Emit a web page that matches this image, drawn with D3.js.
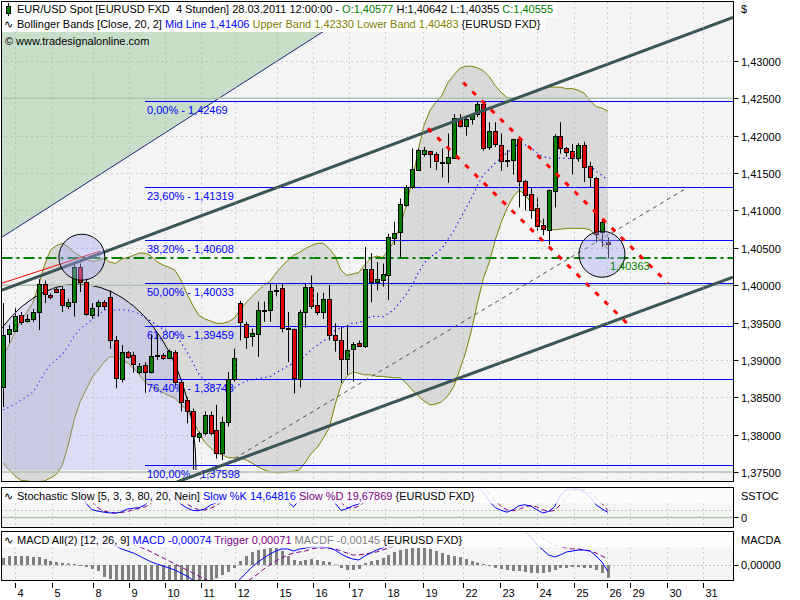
<!DOCTYPE html>
<html><head><meta charset="utf-8">
<script src="https://d3js.org/d3.v7.min.js"></script>
<style>
body{margin:0;background:#fff;}
svg{display:block;}
text{font-family:"Liberation Sans",Arial,Helvetica,sans-serif;font-size:11px;white-space:pre;}
</style></head>
<body><svg id="chart" width="800" height="600"></svg>
<script>
// ---------------- DATA ----------------
const opens = [1.3864,1.3934,1.3939,1.3960,1.3952,1.3954,1.3964,1.4001,1.3987,1.3995,1.3995,1.3972,1.3977,1.4024,1.4004,1.3961,1.3971,1.3977,1.3984,1.3926,1.3874,1.3910,1.3907,1.3884,1.3893,1.3883,1.3905,1.3907,1.3903,1.3911,1.3871,1.3846,1.3831,1.3797,1.3802,1.3826,1.3806,1.3775,1.3817,1.3874,1.3976,1.3948,1.3932,1.3935,1.3966,1.3966,1.3991,1.3996,1.3943,1.3941,1.3875,1.3964,1.3998,1.3973,1.3964,1.3982,1.3933,1.3926,1.3901,1.3914,1.3923,1.3918,1.4021,1.4004,1.4007,1.4014,1.4063,1.4071,1.4107,1.4131,1.4154,1.4175,1.4179,1.4175,1.4165,1.4163,1.4171,1.4224,1.4213,1.4222,1.4229,1.4243,1.4184,1.4206,1.4188,1.4167,1.4167,1.4195,1.4140,1.4122,1.4103,1.4080,1.4074,1.4126,1.4199,1.4183,1.4179,1.4169,1.4187,1.4159,1.4144,1.4071,1.40577];
const highs = [1.3976,1.3947,1.3970,1.3964,1.3961,1.3968,1.4008,1.4006,1.3989,1.3997,1.3998,1.3982,1.4029,1.4029,1.4009,1.3976,1.3980,1.3980,1.3993,1.3932,1.3920,1.3912,1.3911,1.3896,1.3897,1.3934,1.3935,1.3909,1.3914,1.3913,1.3873,1.3850,1.3835,1.3804,1.3831,1.3831,1.3840,1.3824,1.3884,1.3915,1.3979,1.3951,1.3942,1.3978,1.3978,1.4002,1.4001,1.4002,1.3964,1.3942,1.3967,1.4002,1.4013,1.3990,1.3990,1.4000,1.3949,1.3944,1.3947,1.3924,1.3926,1.4051,1.4043,1.4031,1.4029,1.4069,1.4085,1.4116,1.4134,1.4183,1.4183,1.4185,1.4180,1.4178,1.4183,1.4203,1.4229,1.4229,1.4223,1.4230,1.4247,1.4245,1.4218,1.4218,1.4203,1.4181,1.4196,1.4199,1.4141,1.4131,1.4118,1.4089,1.4128,1.4202,1.4218,1.4185,1.4189,1.4190,1.4192,1.4165,1.4145,1.4089,1.40642];
const lows = [1.3837,1.3923,1.3938,1.3947,1.3950,1.3951,1.3940,1.3976,1.3981,1.3990,1.3964,1.3968,1.3958,1.3991,1.3959,1.3955,1.3958,1.3967,1.3915,1.3862,1.3870,1.3902,1.3883,1.3881,1.3856,1.3882,1.3900,1.3900,1.3901,1.3866,1.3831,1.3815,1.3753,1.3790,1.3799,1.3799,1.3768,1.3766,1.3811,1.3871,1.3926,1.3915,1.3918,1.3904,1.3951,1.3951,1.3985,1.3937,1.3897,1.3855,1.3863,1.3943,1.3968,1.3960,1.3955,1.3926,1.3911,1.3869,1.3880,1.3871,1.3918,1.3916,1.3977,1.3993,1.3998,1.3980,1.4054,1.4037,1.4105,1.4129,1.4153,1.4172,1.4157,1.4154,1.4144,1.4137,1.4169,1.4211,1.4200,1.4215,1.4225,1.4180,1.4181,1.4185,1.4153,1.4158,1.4148,1.4104,1.4100,1.4089,1.4073,1.4067,1.4054,1.4104,1.4176,1.4172,1.4148,1.4165,1.4138,1.4131,1.4057,1.4051,1.40355];
const closes = [1.3933,1.3941,1.3959,1.3951,1.3955,1.3964,1.4001,1.3987,1.3984,1.3991,1.3973,1.3977,1.4024,1.4004,1.3961,1.3970,1.3977,1.3971,1.3926,1.3875,1.3910,1.3903,1.3895,1.3892,1.3883,1.3905,1.3907,1.3903,1.3912,1.3871,1.3844,1.3831,1.3797,1.3802,1.3826,1.3802,1.3775,1.3817,1.3875,1.3902,1.3951,1.3931,1.3936,1.3967,1.3967,1.3992,1.3993,1.3943,1.3941,1.3875,1.3964,1.3998,1.3972,1.3964,1.3982,1.3934,1.3926,1.3901,1.3913,1.3921,1.3919,1.4021,1.4004,1.4008,1.4015,1.4065,1.4070,1.4108,1.4131,1.4155,1.4181,1.4181,1.4175,1.4165,1.4163,1.4171,1.4224,1.4213,1.4222,1.4229,1.4243,1.4184,1.4206,1.4188,1.4167,1.4166,1.4195,1.4139,1.4121,1.4100,1.4079,1.4074,1.4127,1.4199,1.4183,1.4178,1.4169,1.4187,1.4158,1.4144,1.4069,1.4085,1.40555];

const bbUpper = [1.3904,1.3920,1.3937,1.3953,1.3964,1.3976,1.4000,1.4027,1.4047,1.4053,1.4056,1.4051,1.4044,1.4039,1.4035,1.4032,1.4033,1.4036,1.4031,1.4029,1.4035,1.4037,1.4040,1.4043,1.4043,1.4039,1.4031,1.4027,1.4024,1.4020,1.4007,1.3989,1.3973,1.3960,1.3955,1.3952,1.3949,1.3949,1.3951,1.3956,1.3967,1.3977,1.3985,1.3993,1.4000,1.4005,1.4016,1.4025,1.4033,1.4040,1.4044,1.4049,1.4053,1.4056,1.4056,1.4049,1.4039,1.4020,1.4013,1.4015,1.4017,1.4027,1.4036,1.4039,1.4037,1.4047,1.4060,1.4080,1.4107,1.4140,1.4180,1.4214,1.4234,1.4245,1.4254,1.4271,1.4281,1.4290,1.4293,1.4293,1.4291,1.4287,1.4279,1.4267,1.4258,1.4251,1.4250,1.4251,1.4254,1.4258,1.4261,1.4263,1.4265,1.4265,1.4265,1.4263,1.4263,1.4261,1.4257,1.4247,1.4239,1.4237,1.4233];
const bbLower = [1.3762,1.3753,1.3745,1.3739,1.3738,1.3737,1.3737,1.3738,1.3742,1.3747,1.3759,1.3786,1.3820,1.3844,1.3860,1.3876,1.3886,1.3897,1.3904,1.3904,1.3900,1.3896,1.3889,1.3880,1.3870,1.3864,1.3860,1.3856,1.3852,1.3849,1.3840,1.3833,1.3820,1.3803,1.3790,1.3782,1.3775,1.3773,1.3769,1.3769,1.3769,1.3766,1.3762,1.3757,1.3753,1.3750,1.3749,1.3749,1.3750,1.3751,1.3753,1.3763,1.3775,1.3783,1.3795,1.3809,1.3840,1.3866,1.3878,1.3884,1.3882,1.3880,1.3880,1.3878,1.3878,1.3877,1.3876,1.3876,1.3869,1.3860,1.3852,1.3845,1.3840,1.3841,1.3844,1.3852,1.3864,1.3886,1.3910,1.3940,1.3976,1.4009,1.4031,1.4060,1.4084,1.4103,1.4118,1.4127,1.4122,1.4110,1.4094,1.4082,1.4075,1.4074,1.4075,1.4076,1.4076,1.4076,1.4076,1.4074,1.4066,1.4057,1.4048];

const stochK = [90,90,92,91,89,90,95,94,92,91,89,90,92,80,40,22,18,15,13,12,16,24,26,28,36,55,75,88,70,52,38,27,20,19,24,35,42,62,88,95,96,92,89,92,94,95,96,72,45,30,50,75,90,92,90,70,40,20,25,33,38,60,88,92,94,96,97,97,98,98,98,97,96,94,93,94,96,95,94,90,88,72,45,28,20,15,22,33,36,32,22,13,17,30,62,78,81,80,72,58,36,24,14.65];
const stochD = [90,90,91,91,90,90,91,93,94,92,90,90,90,87,71,47,27,18,15,13,14,17,22,26,30,40,55,73,78,70,53,39,28,22,21,26,34,46,64,82,93,94,92,91,92,94,95,88,71,49,42,52,72,86,91,84,67,43,28,26,32,44,62,80,91,94,96,97,97,98,98,98,97,96,94,94,94,95,95,93,92,85,68,48,31,21,19,23,30,34,30,22,17,20,36,57,74,80,78,70,55,39,19.68];

const macdLine = [0.00420,0.00443,0.00466,0.00489,0.00511,0.00534,0.00580,0.00602,0.00602,0.00580,0.00500,0.00450,0.00410,0.00364,0.00341,0.00318,0.00295,0.00273,0.00250,0.00216,0.00182,0.00159,0.00136,0.00102,0.00068,0.00034,0.00011,-0.00011,-0.00034,-0.00057,-0.00091,-0.00125,-0.00170,-0.00227,-0.00261,-0.00284,-0.00307,-0.00307,-0.00284,-0.00227,-0.00159,-0.00091,-0.00023,0.00034,0.00080,0.00125,0.00159,0.00182,0.00182,0.00159,0.00182,0.00193,0.00205,0.00205,0.00205,0.00193,0.00170,0.00125,0.00091,0.00068,0.00057,0.00102,0.00136,0.00170,0.00193,0.00250,0.00284,0.00341,0.00398,0.00489,0.00568,0.00648,0.00716,0.00761,0.00795,0.00830,0.00875,0.00909,0.00932,0.00955,0.00966,0.00920,0.00852,0.00773,0.00693,0.00625,0.00557,0.00466,0.00386,0.00318,0.00239,0.00170,0.00114,0.00091,0.00114,0.00148,0.00159,0.00170,0.00170,0.00159,0.00102,0.00034,-0.00074];
const macdTrigger = [0.00398,0.00409,0.00420,0.00432,0.00443,0.00455,0.00477,0.00500,0.00523,0.00534,0.00534,0.00523,0.00511,0.00489,0.00455,0.00420,0.00386,0.00352,0.00318,0.00295,0.00273,0.00250,0.00227,0.00205,0.00182,0.00148,0.00114,0.00080,0.00045,0.00011,-0.00023,-0.00057,-0.00091,-0.00125,-0.00159,-0.00193,-0.00227,-0.00250,-0.00261,-0.00261,-0.00239,-0.00193,-0.00148,-0.00102,-0.00045,0.00000,0.00045,0.00080,0.00114,0.00136,0.00148,0.00159,0.00182,0.00193,0.00193,0.00193,0.00182,0.00159,0.00136,0.00114,0.00114,0.00125,0.00136,0.00148,0.00170,0.00193,0.00216,0.00239,0.00273,0.00318,0.00375,0.00443,0.00511,0.00580,0.00648,0.00705,0.00750,0.00795,0.00830,0.00864,0.00886,0.00898,0.00886,0.00852,0.00807,0.00750,0.00682,0.00602,0.00511,0.00432,0.00364,0.00307,0.00261,0.00227,0.00205,0.00193,0.00182,0.00182,0.00170,0.00159,0.00136,0.00102,0.00071];
const macdHist = [0.00080,0.00102,0.00102,0.00102,0.00102,0.00091,0.00091,0.00068,0.00045,0.00034,0.00023,0.00017,0.00011,-0.00011,-0.00023,-0.00045,-0.00068,-0.00136,-0.00160,-0.00180,-0.00190,-0.00200,-0.00205,-0.00210,-0.00210,-0.00210,-0.00205,-0.00200,-0.00200,-0.00200,-0.00205,-0.00210,-0.00215,-0.00215,-0.00210,-0.00200,-0.00150,-0.00114,-0.00080,-0.00034,0.00045,0.00102,0.00148,0.00170,0.00182,0.00193,0.00193,0.00159,0.00102,0.00057,0.00045,0.00057,0.00068,0.00057,0.00045,0.00034,0.00006,-0.00034,-0.00057,-0.00057,-0.00045,0.00023,0.00045,0.00057,0.00080,0.00114,0.00148,0.00170,0.00182,0.00193,0.00193,0.00193,0.00182,0.00159,0.00136,0.00114,0.00102,0.00091,0.00068,0.00045,0.00028,0.00011,-0.00011,-0.00034,-0.00045,-0.00057,-0.00068,-0.00068,-0.00080,-0.00091,-0.00091,-0.00091,-0.00080,-0.00057,-0.00034,-0.00034,-0.00023,-0.00023,-0.00034,-0.00034,-0.00057,-0.00091,-0.00145];

const dayLabels = ["4","5","8","9","10","11","12","15","16","17","18","19","22","23","24","25","26","29","30","31"];
const dayTicks = [2.1,8.2,15.1,21.3,27.4,33.4,39.2,46.2,52.3,58.4,64.4,70.8,77.5,83.8,90,96.2,101.9,105.8,112,118];
const priceTicks = [1.375,1.38,1.385,1.39,1.395,1.40,1.405,1.41,1.415,1.42,1.425,1.43];
const roundLevels = [1.375,1.40,1.425];
const fibLevels = [1.42469,1.41319,1.40608,1.40033,1.39459,1.38748,1.37598];
const fibNames = ["0,00%","23,60%","38,20%","50,00%","61,80%","76,40%","100,00%"];
const markLevel = 1.40363;
// drawing objects (bar index, price)
const triangleLine = [[-0.17,1.40642],[46.4,1.43008]];
const channelUpper = [[-0.17,1.39933],[123.1,1.43583]];
const channelLower = [[29.34,1.37366],[123.1,1.40107]];
const redLine = [[-0.17,1.40027],[16.36,1.40455]];
const redDash1 = [[71.67,1.42099],[106.07,1.39425]];
const redDash2 = [[77.57,1.42714],[112.14,1.40027]];
const grayDash = [[33.22,1.37406],[115.51,1.41310]];
const circles = [[13.3,1.40374],[101.0,1.40414]];
const arcCenter = [12.65,1.37527], arcHalfWidthBars = 19.9, arcHeightPrice = 0.02487;

// ---------------- CHART ----------------
const svg = d3.select('#chart');
const PL = 1.5, PR = 733.5;
const M = {t:1.5, b:481.5}, S = {t:487.5, b:527.5}, D = {t:531.5, b:580.5};
const x = d3.scaleLinear().domain([0,102]).range([3,607.9]);
const y = d3.scaleLinear().domain([1.375,1.43]).range([472,61]);
const ys = d3.scaleLinear().domain([0,100]).range([517.5,482]);
const ym = d3.scaleLinear().domain([0,0.001]).range([565,556.2]);
const N = opens.length, idx = d3.range(N);
const px = i => Math.round(x(i)) + 0.5;
const fmt = v => d3.format('.5f')(v).replace('.', ',');
const P = a => [x(a[0]), y(a[1])];

svg.append('rect').attr('width',800).attr('height',600).attr('fill','#fff');
[M,S,D].forEach(p => svg.append('rect').attr('x',PL).attr('y',p.t).attr('width',PR-PL).attr('height',p.b-p.t).attr('fill','#f4f4f4'));

const defs = svg.append('defs');
[['cm',M],['cs',S],['cd',D]].forEach(([id,p]) => defs.append('clipPath').attr('id',id).append('rect')
  .attr('x',PL+0.5).attr('y',p.t+0.5).attr('width',PR-PL-1).attr('height',p.b-p.t-1));
defs.append('clipPath').attr('id','carc').append('rect').attr('x',0).attr('y',0).attr('width',800).attr('height',y(arcCenter[1]));

const g = svg.append('g').attr('clip-path','url(#cm)');

// green triangle
{
  const [ax,ay] = P(triangleLine[0]), [bx,by] = P(triangleLine[1]);
  const s = (by-ay)/(bx-ax);
  const yl = ay + s*(PL-ax), xt = ax + (M.t-ay)/s;
  g.append('path').attr('d',`M${PL},${M.t}L${xt},${M.t}L${PL},${yl}Z`).attr('fill','#c8dec8');
  g.append('line').attr('x1',PL).attr('y1',yl).attr('x2',xt).attr('y2',M.t).attr('stroke','#1c2878').attr('stroke-width',1);
}

// grid
const vgrid = (p) => dayTicks.forEach(t => svg.append('line').attr('x1',Math.round(x(t))+0.5).attr('x2',Math.round(x(t))+0.5)
  .attr('y1',p.t+1).attr('y2',p.b-1).attr('stroke','#a8a8a8').attr('stroke-dasharray','1,4'));
[M,S,D].forEach(vgrid);
priceTicks.forEach(v => g.append('line').attr('x1',PL).attr('x2',PR).attr('y1',Math.round(y(v))+0.5).attr('y2',Math.round(y(v))+0.5)
  .attr('stroke','#a8a8a8').attr('stroke-dasharray','1,4'));

// bollinger
g.append('path').datum(idx).attr('fill','#d9d9d9')
  .attr('d', d3.area().x(i=>x(i)).y0(i=>y(bbLower[i])).y1(i=>y(bbUpper[i])));
[bbUpper,bbLower].forEach(arr => g.append('path').datum(idx).attr('fill','none').attr('stroke','#808000').attr('stroke-width',1)
  .attr('d', d3.line().x(i=>x(i)).y(i=>y(arr[i]))));
g.append('path').datum(idx).attr('fill','none').attr('stroke','#0000ff').attr('stroke-width',1.2).attr('stroke-dasharray','1.2,3.5')
  .attr('d', d3.line().x(i=>x(i)).y(i=>y((bbUpper[i]+bbLower[i])/2)));

// big half ellipse
{
  const cx = x(arcCenter[0]), cy = y(arcCenter[1]);
  const rx = x(arcCenter[0]+arcHalfWidthBars) - cx, ry = cy - y(arcCenter[1]+arcHeightPrice);
  g.append('ellipse').attr('clip-path','url(#carc)').attr('cx',cx).attr('cy',cy).attr('rx',rx).attr('ry',ry)
    .attr('fill','#a4a4f7').attr('fill-opacity',0.3).attr('stroke','#000').attr('stroke-width',1);
}

// round level lines
roundLevels.forEach(v => g.append('line').attr('x1',PL).attr('x2',PR).attr('y1',y(v)).attr('y2',y(v)).attr('stroke','#b0c4b0').attr('stroke-width',1.5));

// fib
fibLevels.forEach((v,k) => {
  const yy = Math.round(y(v))+0.5;
  g.append('line').attr('x1',145).attr('x2',PR).attr('y1',yy).attr('y2',yy).attr('stroke','#0000ff').attr('stroke-width',1);
  g.append('text').attr('x',147).attr('y',yy+12.5).attr('fill','#0000ff').text(fibNames[k]+' - '+fmt(v));
});

// green dash-dot line
g.append('line').attr('x1',PL).attr('x2',PR).attr('y1',y(markLevel)).attr('y2',y(markLevel))
  .attr('stroke','#008000').attr('stroke-width',2).attr('stroke-dasharray','11,4,3,4');

// gray dashed
{ const [a,b] = [P(grayDash[0]),P(grayDash[1])];
  g.append('line').attr('x1',a[0]).attr('y1',a[1]).attr('x2',b[0]).attr('y2',b[1]).attr('stroke','#505050').attr('stroke-width',1).attr('stroke-dasharray','4,4'); }

// candles
const cg = g.append('g');
idx.forEach(i => {
  const xx = px(i);
  cg.append('line').attr('x1',xx).attr('x2',xx).attr('y1',y(highs[i])).attr('y2',y(lows[i])).attr('stroke','#000').attr('stroke-width',1);
  const yo = y(opens[i]), yc = y(closes[i]);
  const top = Math.round(Math.min(yo,yc))+0.5, h = Math.max(Math.round(Math.abs(yo-yc)),1);
  const col = closes[i] > opens[i] ? '#008000' : '#e00000';
  cg.append('rect').attr('x',xx-2).attr('y',top).attr('width',4).attr('height',h)
    .attr('fill', h<=1 ? '#000' : col).attr('stroke','#000').attr('stroke-width',1);
});

// channel lines
[channelUpper, channelLower].forEach(l => { const [a,b] = [P(l[0]),P(l[1])];
  g.append('line').attr('x1',a[0]).attr('y1',a[1]).attr('x2',b[0]).attr('y2',b[1]).attr('stroke','#3b5656').attr('stroke-width',3); });
{ const [a,b] = [P(redLine[0]),P(redLine[1])];
  g.append('line').attr('x1',a[0]).attr('y1',a[1]).attr('x2',b[0]).attr('y2',b[1]).attr('stroke','#ff0000').attr('stroke-width',1); }

// circles
circles.forEach(c => g.append('circle').attr('cx',x(c[0])).attr('cy',y(c[1])).attr('r',23)
  .attr('fill','#a4a4f7').attr('fill-opacity',0.4).attr('stroke','#000').attr('stroke-width',1));

// red dashed
[redDash1, redDash2].forEach(l => { const [a,b] = [P(l[0]),P(l[1])];
  g.append('line').attr('x1',a[0]).attr('y1',a[1]).attr('x2',b[0]).attr('y2',b[1]).attr('stroke','#ff0000').attr('stroke-width',3).attr('stroke-dasharray','5,8'); });

g.append('text').attr('x',x(N-1)+2).attr('y',y(markLevel)+12).attr('fill','#008000').attr('font-size','12px').text(fmt(markLevel));

// header
const hdr = svg.append('g');
const r1 = hdr.append('rect').attr('fill','#fff'), r2 = hdr.append('rect').attr('fill','#fff');
hdr.append('line').attr('x1',8.5).attr('x2',8.5).attr('y1',3).attr('y2',16).attr('stroke','#000');
hdr.append('rect').attr('x',6.5).attr('y',6.5).attr('width',4).attr('height',7).attr('fill','#008000').attr('stroke','#000');
const t1 = hdr.append('text').attr('x',17).attr('y',13);
t1.append('tspan').text('EUR/USD Spot [EURUSD FXD  4 Stunden] 28.03.2011 12:00:00 - ');
t1.append('tspan').attr('fill','#008000').text('O:' + fmt(opens[N-1]));
t1.append('tspan').text(' H:' + fmt(highs[N-1]) + ' L:' + fmt(lows[N-1]) + ' ');
t1.append('tspan').attr('fill','#008000').text('C:' + fmt(closes[N-1]));
hdr.append('text').attr('x',4).attr('y',28).attr('font-family','DejaVu Sans').attr('font-size','12px').text('∿');
const t2 = hdr.append('text').attr('x',17).attr('y',28);
t2.append('tspan').text('Bollinger Bands [Close, 20, 2] ');
t2.append('tspan').attr('fill','#0000ff').text('Mid Line 1,41406');
t2.append('tspan').attr('fill','#808000').text(' Upper Band 1,42330 Lower Band 1,40483');
t2.append('tspan').text(' {EURUSD FXD}');
hdr.append('text').attr('x',5).attr('y',45).text('©');
hdr.append('text').attr('x',16).attr('y',45).text('www.tradesignalonline.com');
const b1 = t1.node().getBBox(), b2 = t2.node().getBBox();
r1.attr('x',2).attr('y',2).attr('width',b1.x+b1.width+4-2).attr('height',15);
r2.attr('x',2).attr('y',17).attr('width',b2.x+b2.width+4-2).attr('height',15);

// right price axis
priceTicks.forEach(v => {
  const yy = Math.round(y(v))+0.5;
  svg.append('line').attr('x1',PR).attr('x2',PR+5).attr('y1',yy).attr('y2',yy).attr('stroke','#000');
  svg.append('text').attr('x',741).attr('y',yy+4).text(fmt(v));
});
svg.append('text').attr('x',741).attr('y',13).text('$');

// ---- Stochastic ----
const gs = svg.append('g').attr('clip-path','url(#cs)');
gs.append('line').attr('x1',PL).attr('x2',PR).attr('y1',ys(0)).attr('y2',ys(0)).attr('stroke','#b0c4b0').attr('stroke-width',1.5);
[20,80].forEach(v => gs.append('line').attr('x1',PL).attr('x2',PR).attr('y1',Math.round(ys(v))+0.5).attr('y2',Math.round(ys(v))+0.5)
  .attr('stroke','#888').attr('stroke-dasharray','1,3'));
gs.append('path').datum(idx).attr('fill','none').attr('stroke','#800080').attr('stroke-dasharray','5,3')
  .attr('d', d3.line().x(i=>x(i)).y(i=>ys(stochD[i])));
gs.append('path').datum(idx).attr('fill','none').attr('stroke','#0000ff')
  .attr('d', d3.line().x(i=>x(i)).y(i=>ys(stochK[i])));
gs.append('rect').attr('x',PL).attr('y',S.t).attr('width',PR-PL).attr('height',16).attr('fill','#fff').attr('fill-opacity',0.82);
svg.append('text').attr('x',4).attr('y',500).attr('font-family','DejaVu Sans').attr('font-size','12px').text('∿');
const ts = svg.append('text').attr('x',17).attr('y',500);
ts.append('tspan').text('Stochastic Slow [5, 3, 3, 80, 20, Nein] ');
ts.append('tspan').attr('fill','#0000ff').text('Slow %K 14,64816');
ts.append('tspan').attr('fill','#800080').text(' Slow %D 19,67869');
ts.append('tspan').text(' {EURUSD FXD}');
svg.append('text').attr('x',741).attr('y',500).text('SSTOC');
svg.append('line').attr('x1',PR).attr('x2',PR+5).attr('y1',ys(0)).attr('y2',ys(0)).attr('stroke','#000');
svg.append('text').attr('x',741).attr('y',ys(0)+4).text('0');

// ---- MACD ----
const gd = svg.append('g').attr('clip-path','url(#cd)');
gd.append('line').attr('x1',PL).attr('x2',PR).attr('y1',Math.round(ym(0))+0.5).attr('y2',Math.round(ym(0))+0.5)
  .attr('stroke','#888').attr('stroke-dasharray','1,3');
idx.forEach(i => {
  const v = macdHist[i], y0 = ym(0), y1 = ym(v);
  gd.append('rect').attr('x',Math.round(x(i))-1).attr('y',Math.min(y0,y1)).attr('width',3).attr('height',Math.abs(y1-y0)).attr('fill','#808080');
});
gd.append('path').datum(idx).attr('fill','none').attr('stroke','#800080').attr('stroke-dasharray','5,3')
  .attr('d', d3.line().x(i=>x(i)).y(i=>ym(macdTrigger[i])));
gd.append('path').datum(idx).attr('fill','none').attr('stroke','#0000ff')
  .attr('d', d3.line().x(i=>x(i)).y(i=>ym(macdLine[i])));
gd.append('rect').attr('x',PL).attr('y',D.t).attr('width',PR-PL).attr('height',16).attr('fill','#fff').attr('fill-opacity',0.82);
svg.append('text').attr('x',4).attr('y',544).attr('font-family','DejaVu Sans').attr('font-size','12px').text('∿');
const tm = svg.append('text').attr('x',17).attr('y',544);
tm.append('tspan').text('MACD All(2) [12, 26, 9] ');
tm.append('tspan').attr('fill','#0000ff').text('MACD -0,00074');
tm.append('tspan').attr('fill','#800080').text(' Trigger 0,00071');
tm.append('tspan').attr('fill','#808080').text(' MACDF -0,00145');
tm.append('tspan').text(' {EURUSD FXD}');
svg.append('text').attr('x',741).attr('y',544).text('MACDA');
svg.append('line').attr('x1',PR).attr('x2',PR+5).attr('y1',Math.round(ym(0))+0.5).attr('y2',Math.round(ym(0))+0.5).attr('stroke','#000');
svg.append('text').attr('x',741).attr('y',ym(0)+4).text('0,00000');

// panel borders
[M,S,D].forEach(p => svg.append('rect').attr('x',PL).attr('y',p.t).attr('width',PR-PL).attr('height',p.b-p.t)
  .attr('fill','none').attr('stroke','#000').attr('stroke-width',1));

// x axis
dayTicks.forEach((t,k) => {
  const xx = Math.round(x(t))+0.5;
  svg.append('line').attr('x1',xx).attr('x2',xx).attr('y1',583).attr('y2',588).attr('stroke','#000');
  svg.append('text').attr('x',xx+2).attr('y',597).text(dayLabels[k]);
});
</script></body></html>
